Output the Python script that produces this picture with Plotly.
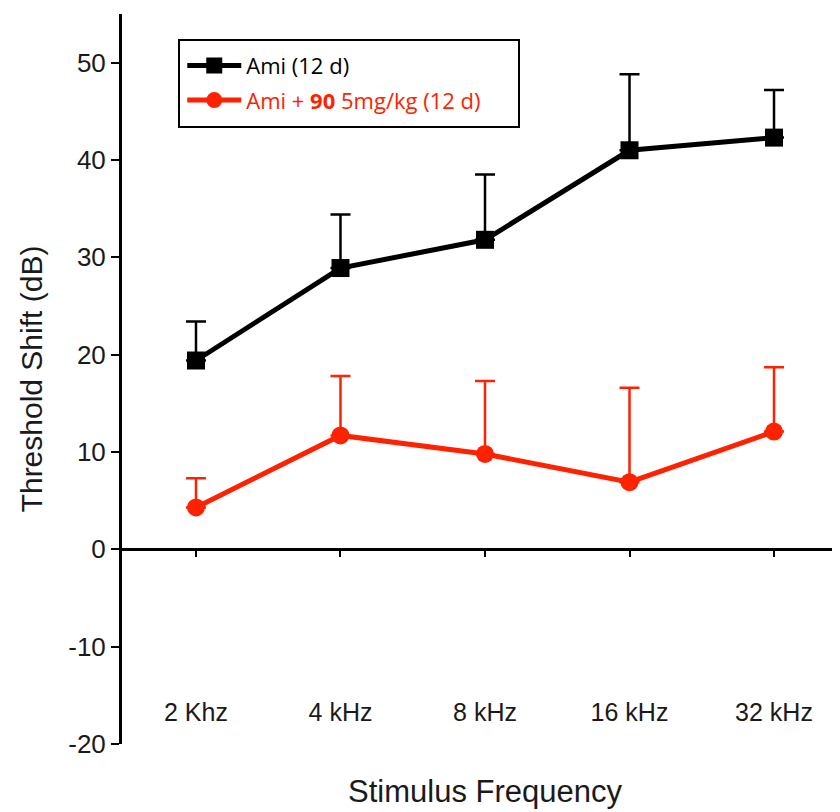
import plotly.graph_objects as go

categories = ["2 Khz", "4 kHz", "8 kHz", "16 kHz", "32 kHz"]
ami_mean = [19.4, 28.9, 31.8, 41.0, 42.3]
ami_err = [4.0, 5.5, 6.7, 7.8, 4.9]
combo_mean = [4.3, 11.7, 9.8, 6.9, 12.1]
combo_err = [3.0, 6.1, 7.5, 9.7, 6.6]
y_ticks = [-20, -10, 0, 10, 20, 30, 40, 50]
y_ticktext = ["-20", "-10", "0", "10", "20", "30", "40", "50"]

xpos = list(range(len(categories)))
RED = "#ff2200"

fig = go.Figure()
fig.add_trace(go.Scatter(
    x=xpos, y=ami_mean, mode="lines+markers", name="Ami (12 d)",
    legendgroup="a",
    line=dict(color="black", width=5),
    marker=dict(symbol="square", size=18, color="black"),
    error_y=dict(type="data", array=ami_err, arrayminus=[0]*5, symmetric=False,
                 color="black", thickness=2.5, width=10),
))
fig.add_trace(go.Scatter(
    x=xpos, y=combo_mean, mode="lines+markers",
    name="<span style='color:%s'>Ami + <b>90</b> 5mg/kg (12 d)</span>" % RED,
    legendgroup="b",
    line=dict(color=RED, width=5),
    marker=dict(symbol="circle", size=18, color=RED),
    error_y=dict(type="data", array=combo_err, arrayminus=[0]*5, symmetric=False,
                 color=RED, thickness=2.5, width=10),
))

ymin, ymax = -20, 55
zero_frac = (0 - ymin) / (ymax - ymin)
plot_w = 726.0

fig.update_layout(
    width=840, height=812,
    margin=dict(l=114, r=0, t=6, b=76),
    plot_bgcolor="white", paper_bgcolor="white",
    font=dict(family="Liberation Sans, Arial, sans-serif", color="#1a1a1a"),
    showlegend=True,
    legend=dict(x=0.083, y=0.958, xanchor="left", yanchor="top",
                bgcolor="rgba(0,0,0,0)", borderwidth=0,
                font=dict(family="Open Sans, sans-serif", size=22, color="black"),
                tracegroupgap=3, itemwidth=54),
    xaxis=dict(
        range=[-0.512, 4.512], tickmode="array", tickvals=xpos, ticktext=categories,
        showgrid=False, zeroline=False, showline=True, linecolor="black", linewidth=2.5,
        ticks="outside", ticklen=6, tickwidth=2, tickcolor="black",
        anchor="free", position=zero_frac, ticklabelstandoff=134,
        tickfont=dict(size=25),
        title=dict(text="Stimulus Frequency", font=dict(size=31), standoff=55),
    ),
    yaxis=dict(
        range=[ymin, ymax], tickmode="array", tickvals=y_ticks, ticktext=y_ticktext,
        showgrid=False, zeroline=False, showline=True, linecolor="black", linewidth=3,
        ticks="outside", ticklen=8, tickwidth=2, tickcolor="black",
        tickfont=dict(size=26),
        title=dict(text="Threshold Shift (dB)", font=dict(size=30), standoff=17),
    ),
    shapes=[dict(type="rect", xref="paper", yref="paper",
                 x0=(179-122)/plot_w, x1=(519-122)/plot_w,
                 y0=1-(127-14)/730, y1=1-(40-14)/730,
                 line=dict(color="black", width=2))],
)

fig.write_html("out.html")
